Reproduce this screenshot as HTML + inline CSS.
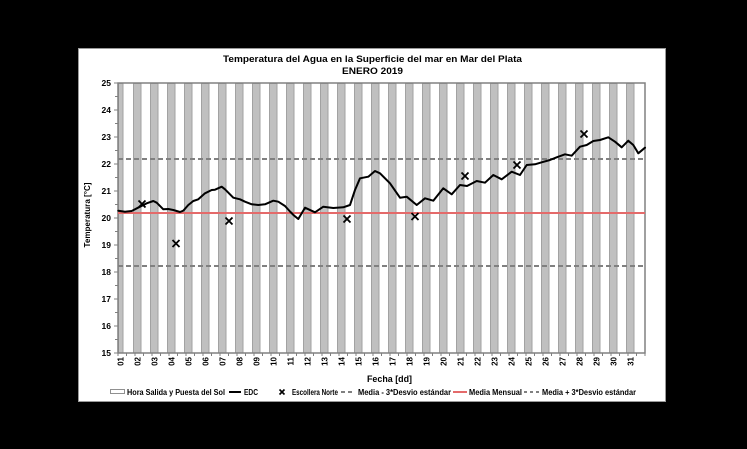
<!DOCTYPE html>
<html><head><meta charset="utf-8"><style>
html,body{margin:0;padding:0;background:#000;}
svg{display:block;}
text{font-family:"Liberation Sans",Arial,sans-serif;font-weight:bold;fill:#000;}
</style></head><body>
<svg width="747" height="449" viewBox="0 0 747 449" xmlns="http://www.w3.org/2000/svg">
<rect x="0" y="0" width="747" height="449" fill="#000"/>
<rect x="78.5" y="48.5" width="587" height="353" fill="#fff" stroke="#9a9a9a" stroke-width="1"/>

<!-- title -->
<text x="372.5" y="62" text-anchor="middle" font-size="9.5" textLength="299" lengthAdjust="spacingAndGlyphs">Temperatura del Agua en la Superficie del mar en Mar del Plata</text>
<text x="372.5" y="74" text-anchor="middle" font-size="9.5" textLength="61" lengthAdjust="spacingAndGlyphs">ENERO 2019</text>

<!-- bars -->
<g fill="#c0c0c0" stroke="#a2a2a2" stroke-width="1">
<rect x="118.5" y="83.5" width="4.5" height="269.5"/>
<rect x="133.5" y="83.5" width="7.5" height="269.5"/>
<rect x="150.5" y="83.5" width="7.5" height="269.5"/>
<rect x="167.5" y="83.5" width="7.5" height="269.5"/>
<rect x="184.5" y="83.5" width="7.5" height="269.5"/>
<rect x="201.5" y="83.5" width="7.5" height="269.5"/>
<rect x="218.5" y="83.5" width="7.5" height="269.5"/>
<rect x="235.5" y="83.5" width="7.5" height="269.5"/>
<rect x="252.5" y="83.5" width="7.5" height="269.5"/>
<rect x="269.5" y="83.5" width="7.5" height="269.5"/>
<rect x="286.5" y="83.5" width="7.5" height="269.5"/>
<rect x="303.5" y="83.5" width="7.5" height="269.5"/>
<rect x="320.5" y="83.5" width="7.5" height="269.5"/>
<rect x="337.5" y="83.5" width="7.5" height="269.5"/>
<rect x="354.5" y="83.5" width="7.5" height="269.5"/>
<rect x="371.5" y="83.5" width="7.5" height="269.5"/>
<rect x="388.5" y="83.5" width="7.5" height="269.5"/>
<rect x="405.5" y="83.5" width="7.5" height="269.5"/>
<rect x="422.5" y="83.5" width="7.5" height="269.5"/>
<rect x="439.5" y="83.5" width="7.5" height="269.5"/>
<rect x="456.5" y="83.5" width="7.5" height="269.5"/>
<rect x="473.5" y="83.5" width="7.5" height="269.5"/>
<rect x="490.5" y="83.5" width="7.5" height="269.5"/>
<rect x="507.5" y="83.5" width="7.5" height="269.5"/>
<rect x="524.5" y="83.5" width="7.5" height="269.5"/>
<rect x="541.5" y="83.5" width="7.5" height="269.5"/>
<rect x="558.5" y="83.5" width="7.5" height="269.5"/>
<rect x="575.5" y="83.5" width="7.5" height="269.5"/>
<rect x="592.5" y="83.5" width="7.5" height="269.5"/>
<rect x="609.5" y="83.5" width="7.5" height="269.5"/>
<rect x="626.5" y="83.5" width="7.5" height="269.5"/>
</g>

<!-- plot border -->
<rect x="118" y="83" width="527" height="270" fill="none" stroke="#808080" stroke-width="1.5"/>

<!-- y ticks -->
<g stroke="#808080" stroke-width="1">
<line x1="114" y1="83" x2="118" y2="83"/><line x1="115" y1="96.5" x2="118" y2="96.5"/>
<line x1="114" y1="110" x2="118" y2="110"/><line x1="115" y1="123.5" x2="118" y2="123.5"/>
<line x1="114" y1="137" x2="118" y2="137"/><line x1="115" y1="150.5" x2="118" y2="150.5"/>
<line x1="114" y1="164" x2="118" y2="164"/><line x1="115" y1="177.5" x2="118" y2="177.5"/>
<line x1="114" y1="191" x2="118" y2="191"/><line x1="115" y1="204.5" x2="118" y2="204.5"/>
<line x1="114" y1="218" x2="118" y2="218"/><line x1="115" y1="231.5" x2="118" y2="231.5"/>
<line x1="114" y1="245" x2="118" y2="245"/><line x1="115" y1="258.5" x2="118" y2="258.5"/>
<line x1="114" y1="272" x2="118" y2="272"/><line x1="115" y1="285.5" x2="118" y2="285.5"/>
<line x1="114" y1="299" x2="118" y2="299"/><line x1="115" y1="312.5" x2="118" y2="312.5"/>
<line x1="114" y1="326" x2="118" y2="326"/><line x1="115" y1="339.5" x2="118" y2="339.5"/>
<line x1="114" y1="353" x2="118" y2="353"/>
</g>
<!-- x ticks -->
<g stroke="#808080" stroke-width="1" id="xt"></g>

<!-- y labels -->
<g font-size="8.5" text-anchor="end">
<text x="111" y="86">25</text><text x="111" y="113">24</text><text x="111" y="140">23</text>
<text x="111" y="167">22</text><text x="111" y="194">21</text><text x="111" y="221">20</text>
<text x="111" y="248">19</text><text x="111" y="275">18</text><text x="111" y="302">17</text>
<text x="111" y="329">16</text><text x="111" y="356">15</text>
</g>
<text transform="translate(90,215) rotate(-90)" text-anchor="middle" font-size="8.5" textLength="65" lengthAdjust="spacingAndGlyphs">Temperatura [°C]</text>

<!-- reference lines -->
<line x1="118" y1="159" x2="645" y2="159" stroke="#808080" stroke-width="2" stroke-dasharray="5,3"/>
<line x1="118" y1="266" x2="645" y2="266" stroke="#808080" stroke-width="2" stroke-dasharray="5,3"/>
<line x1="118" y1="213" x2="645" y2="213" stroke="#e46a6a" stroke-width="2"/>

<!-- EDC line -->
<polyline fill="none" stroke="#000" stroke-width="2" stroke-linejoin="round" stroke-linecap="round" points="118.3,210.7 125,211.7 131.7,211 140,206.7 146.7,203.3 153.3,201 156.7,202.7 163.3,209.3 168.3,209 173.3,210 180,212 183.3,210.7 188.3,205 193.3,201 198.3,199.3 205,193.3 211.7,190 215,189.7 221.7,186.7 225,189.3 233.3,197.7 240,199.3 245,201.7 251.7,204.3 258.3,205 265,204.3 273.3,200.7 278.3,201.7 285,206 290,211.5 294,215.5 298.3,219 305,207.7 315,212.3 323.3,206.7 333.3,208 343.3,207.3 350,205 355,190 360,178.3 368.3,176.7 375,171 380,173.3 390,183.3 400,197.7 406.7,196.7 416.7,205 425,198.3 433.3,200.7 443.3,188.3 451.7,194.3 460,185 467,186 476.7,181 485,182.7 493.3,175 501.7,179.3 511.7,171.7 520,175 526.7,165 535,164.3 541.7,162.3 550,160 556.7,157.3 565,154.3 571.7,155.7 580,146.7 586.7,145 593.3,141 600,140 608.3,137.3 615,141.7 621.7,147.3 628.3,140.7 633.3,145 638.3,153.3 645,147.7"/>

<!-- crosses -->
<g stroke="#000" stroke-width="1.8">
<path d="M138.5,200.5 L145.5,207.5 M145.5,200.5 L138.5,207.5"/>
<path d="M172.5,240 L179.5,247 M179.5,240 L172.5,247"/>
<path d="M225.5,217.5 L232.5,224.5 M232.5,217.5 L225.5,224.5"/>
<path d="M343.5,215.5 L350.5,222.5 M350.5,215.5 L343.5,222.5"/>
<path d="M411.5,213 L418.5,220 M418.5,213 L411.5,220"/>
<path d="M461.5,172.5 L468.5,179.5 M468.5,172.5 L461.5,179.5"/>
<path d="M513.5,161.5 L520.5,168.5 M520.5,161.5 L513.5,168.5"/>
<path d="M580.5,130.5 L587.5,137.5 M587.5,130.5 L580.5,137.5"/>
</g>

<!-- x labels -->
<g font-size="8" text-anchor="end">
<text transform="translate(120.5,357) rotate(-90)" dy="3">01</text>
<text transform="translate(137.5,357) rotate(-90)" dy="3">02</text>
<text transform="translate(154.5,357) rotate(-90)" dy="3">03</text>
<text transform="translate(171.5,357) rotate(-90)" dy="3">04</text>
<text transform="translate(188.5,357) rotate(-90)" dy="3">05</text>
<text transform="translate(205.5,357) rotate(-90)" dy="3">06</text>
<text transform="translate(222.5,357) rotate(-90)" dy="3">07</text>
<text transform="translate(239.5,357) rotate(-90)" dy="3">08</text>
<text transform="translate(256.5,357) rotate(-90)" dy="3">09</text>
<text transform="translate(273.5,357) rotate(-90)" dy="3">10</text>
<text transform="translate(290.5,357) rotate(-90)" dy="3">11</text>
<text transform="translate(307.5,357) rotate(-90)" dy="3">12</text>
<text transform="translate(324.5,357) rotate(-90)" dy="3">13</text>
<text transform="translate(341.5,357) rotate(-90)" dy="3">14</text>
<text transform="translate(358.5,357) rotate(-90)" dy="3">15</text>
<text transform="translate(375.5,357) rotate(-90)" dy="3">16</text>
<text transform="translate(392.5,357) rotate(-90)" dy="3">17</text>
<text transform="translate(409.5,357) rotate(-90)" dy="3">18</text>
<text transform="translate(426.5,357) rotate(-90)" dy="3">19</text>
<text transform="translate(443.5,357) rotate(-90)" dy="3">20</text>
<text transform="translate(460.5,357) rotate(-90)" dy="3">21</text>
<text transform="translate(477.5,357) rotate(-90)" dy="3">22</text>
<text transform="translate(494.5,357) rotate(-90)" dy="3">23</text>
<text transform="translate(511.5,357) rotate(-90)" dy="3">24</text>
<text transform="translate(528.5,357) rotate(-90)" dy="3">25</text>
<text transform="translate(545.5,357) rotate(-90)" dy="3">26</text>
<text transform="translate(562.5,357) rotate(-90)" dy="3">27</text>
<text transform="translate(579.5,357) rotate(-90)" dy="3">28</text>
<text transform="translate(596.5,357) rotate(-90)" dy="3">29</text>
<text transform="translate(613.5,357) rotate(-90)" dy="3">30</text>
<text transform="translate(630.5,357) rotate(-90)" dy="3">31</text>
</g>
<g stroke="#808080" stroke-width="1">
<path d="M118,353v3 M126.5,353v3 M135,353v3 M143.5,353v3 M152,353v3 M160.5,353v3 M169,353v3 M177.5,353v3 M186,353v3 M194.5,353v3 M203,353v3 M211.5,353v3 M220,353v3 M228.5,353v3 M237,353v3 M245.5,353v3 M254,353v3 M262.5,353v3 M271,353v3 M279.5,353v3 M288,353v3 M296.5,353v3 M305,353v3 M313.5,353v3 M322,353v3 M330.5,353v3 M339,353v3 M347.5,353v3 M356,353v3 M364.5,353v3 M373,353v3 M381.5,353v3 M390,353v3 M398.5,353v3 M407,353v3 M415.5,353v3 M424,353v3 M432.5,353v3 M441,353v3 M449.5,353v3 M458,353v3 M466.5,353v3 M475,353v3 M483.5,353v3 M492,353v3 M500.5,353v3 M509,353v3 M517.5,353v3 M526,353v3 M534.5,353v3 M543,353v3 M551.5,353v3 M560,353v3 M568.5,353v3 M577,353v3 M585.5,353v3 M594,353v3 M602.5,353v3 M611,353v3 M619.5,353v3 M628,353v3 M636.5,353v3 M645,353v3"/>
</g>

<text x="389.5" y="382" text-anchor="middle" font-size="9" textLength="45" lengthAdjust="spacingAndGlyphs">Fecha [dd]</text>

<!-- legend -->
<rect x="110.5" y="389.5" width="14" height="4" fill="#fff" stroke="#909090" stroke-width="1"/>
<text x="127" y="395" font-size="8" textLength="98" lengthAdjust="spacingAndGlyphs">Hora Salida y Puesta del Sol</text>
<line x1="229" y1="392" x2="241" y2="392" stroke="#000" stroke-width="2"/>
<text x="244" y="395" font-size="8" textLength="14" lengthAdjust="spacingAndGlyphs">EDC</text>
<path d="M279.5,389.5 L284.5,394.5 M284.5,389.5 L279.5,394.5" stroke="#000" stroke-width="1.6"/>
<text x="292" y="395" font-size="8" textLength="46" lengthAdjust="spacingAndGlyphs">Escollera Norte</text>
<line x1="341" y1="392" x2="354" y2="392" stroke="#808080" stroke-width="2" stroke-dasharray="4,3"/>
<text x="358" y="395" font-size="8" textLength="93" lengthAdjust="spacingAndGlyphs">Media - 3*Desvio estándar</text>
<line x1="453" y1="392" x2="467" y2="392" stroke="#e46a6a" stroke-width="2"/>
<text x="469" y="395" font-size="8" textLength="53" lengthAdjust="spacingAndGlyphs">Media Mensual</text>
<line x1="524" y1="392" x2="539" y2="392" stroke="#808080" stroke-width="2" stroke-dasharray="3,3"/>
<text x="542" y="395" font-size="8" textLength="94" lengthAdjust="spacingAndGlyphs">Media + 3*Desvio estándar</text>
</svg>
</body></html>
